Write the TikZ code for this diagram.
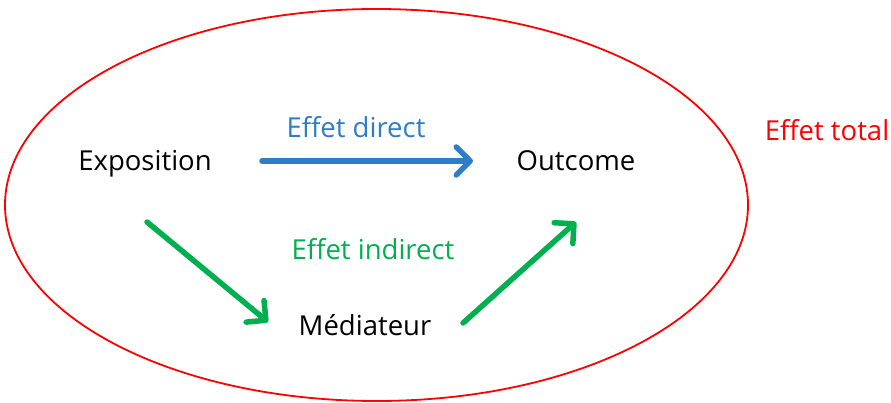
\documentclass[tikz,border=0pt]{standalone}
\usepackage{fontspec}
\setmainfont{Open Sans}
\usetikzlibrary{arrows.meta}
\definecolor{cblue}{RGB}{46,125,200}
\definecolor{cgreen}{RGB}{0,176,80}
\definecolor{cred}{RGB}{255,0,0}
\tikzset{
  lbl/.style={font=\fontsize{27.5}{32}\selectfont, inner sep=0pt, anchor=base},
  arr/.style={line width=5.5pt, line cap=round, -{Straight Barb[length=14pt,width=28pt,round]}},
}
\begin{document}
\begin{tikzpicture}[x=1pt,y=-1pt]
\useasboundingbox (0,0) rectangle (891,403);
\draw[cred, line width=1.8pt] (376.5,205) ellipse [x radius=371.5, y radius=196];
\node[lbl] (expo) at (145,171) {Exposition};
\node[lbl] (outc) at (576,171) {Outcome};
\node[lbl] (medi) at (365,335) {Médiateur};
\node[lbl, text=cblue] (direct) at (356,138) {Effet direct};
\node[lbl, text=cgreen] (indirect) at (373,260) {Effet indirect};
\node[lbl, text=cred] (total) at (827,141) {Effet total};
\coordinate (a1) at (262,161);
\coordinate (b1) at (473,161);
\coordinate (a2) at (147,222);
\coordinate (b2) at (268,322);
\coordinate (a3) at (463,323);
\coordinate (b3) at (576,222);
\draw[arr, cblue] (a1) -- (b1);
\draw[arr, cgreen] (a2) -- (b2);
\draw[arr, cgreen] (a3) -- (b3);
\end{tikzpicture}
\end{document}
